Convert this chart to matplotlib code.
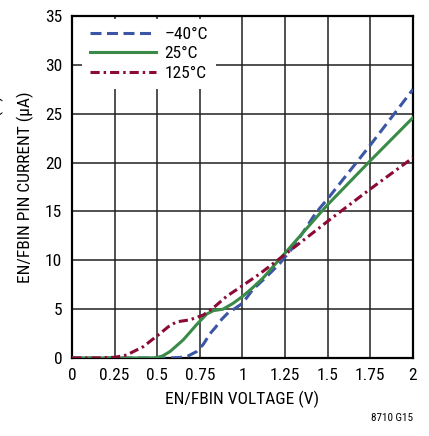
import matplotlib
matplotlib.use("Agg")
import matplotlib.pyplot as plt

plt.rcParams['font.family'] = ['Roboto Condensed', 'DejaVu Sans']

# -40°C
v_m40 = [0, 0.55, 0.63, 0.68, 0.73, 0.77, 0.81, 0.84, 0.88, 0.92, 0.95, 1.0, 1.06, 1.14,
         1.22, 1.3, 1.43, 1.5, 1.65, 1.75, 2.0]
i_m40 = [0, 0, 0.05, 0.2, 0.65, 1.4, 2.5, 3.1, 4.0, 4.7, 5.0, 5.6, 7.0, 8.3,
         9.7, 11.4, 14.85, 16.3, 19.6, 21.8, 27.5]
# 25°C
v_25 = [0, 0.45, 0.49, 0.53, 0.574, 0.61, 0.652, 0.69, 0.73, 0.79, 0.83, 0.886, 0.945,
        1.0, 1.06, 1.121, 1.25, 1.449, 1.5, 1.75, 2.0]
i_25 = [0, 0, 0.02, 0.2, 0.65, 1.2, 1.85, 2.6, 3.4, 4.5, 4.85, 5.0, 5.6,
        6.3, 7.2, 8.2, 10.75, 14.7, 15.7, 20.2, 24.6]
# 125°C
v_125 = [0, 0.15, 0.25, 0.32, 0.418, 0.516, 0.565, 0.613, 0.69, 0.77, 0.84, 0.906,
         1.0, 1.1, 1.25, 1.449, 1.5, 1.75, 2.0]
i_125 = [0, 0, 0.07, 0.3, 1.16, 2.5, 3.2, 3.7, 3.9, 4.4, 5.3, 6.3,
         7.4, 8.6, 10.6, 13.3, 14.0, 17.3, 20.5]

xticks = [0, 0.25, 0.5, 0.75, 1, 1.25, 1.5, 1.75, 2]
xlabels = ["0", "0.25", "0.5", "0.75", "1", "1.25", "1.5", "1.75", "2"]
yticks = [0, 5, 10, 15, 20, 25, 30, 35]

fig = plt.figure(figsize=(4.29, 4.36), dpi=100)
ax = fig.add_axes([72/429, 1-358/436, (413-72)/429, (358-16)/436])

ax.plot(v_m40, i_m40, color='#3B56A4', lw=2.2, dashes=(3.6, 1.8), label='\u201340\u00b0C', zorder=3)
ax.plot(v_25, i_25, color='#3A8A48', lw=2.2, label='25\u00b0C', zorder=3)
ax.plot(v_125, i_125, color='#8B0A36', lw=2.2, dashes=(3.0, 1.3, 0.8, 1.3), label='125\u00b0C', zorder=3)

ax.set_xlim(0, 2)
ax.set_ylim(0, 35)
ax.set_xticks(xticks)
ax.set_xticklabels(xlabels)
ax.set_yticks(yticks)
ax.grid(True, color='#202020', lw=1.1)
ax.tick_params(length=0, labelsize=12.5, pad=7)
for s in ax.spines.values():
    s.set_linewidth(1.6)
    s.set_color('black')

ax.set_xlabel('EN/FBIN VOLTAGE (V)', fontsize=12.5, labelpad=6)
ax.set_ylabel('EN/FBIN PIN CURRENT (\u03bcA)', fontsize=12.5, labelpad=8)
fig.text(-5/429, 1-188/436, 'EN/FBIN ACTIVE MODE (A)', rotation=90, fontsize=12.5,
         ha='center', va='center')

leg = ax.legend(loc='upper left', bbox_to_anchor=((82-72)/341, (358-19)/342), fontsize=12.5,
                frameon=True, handlelength=3.8, handletextpad=0.5, labelspacing=0.25,
                borderpad=0.45, borderaxespad=0)
leg.get_frame().set_edgecolor('none')
leg.get_frame().set_facecolor('white')
leg.get_frame().set_alpha(1)
leg.get_frame().set_boxstyle('square', pad=0)

fig.text(413/429, 1-418/436, '8710 G15', fontsize=8, ha='right', va='center')

fig.savefig('out.png', dpi=100)
